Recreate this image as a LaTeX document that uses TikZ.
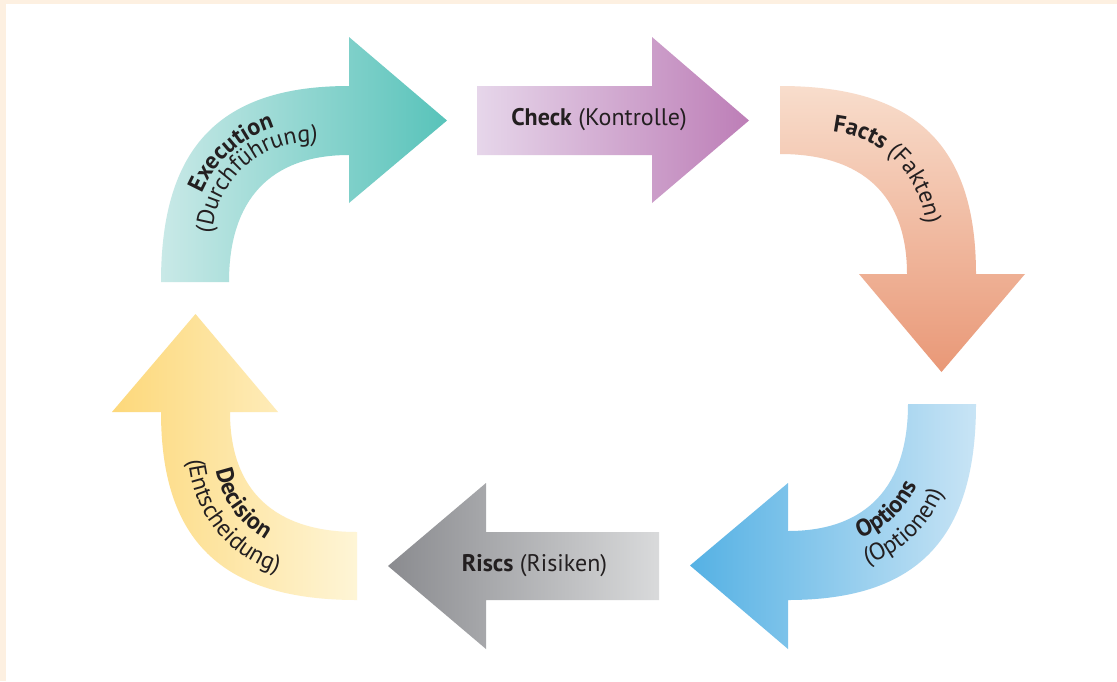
\documentclass[tikz,border=0pt]{standalone}
\usepackage{fontspec}
\setmainfont{PT Sans}
\usetikzlibrary{decorations.text}
\definecolor{cream}{HTML}{FDF0E1}
\definecolor{txt}{HTML}{231F20}
\definecolor{tealL}{HTML}{C9E9E7}
\definecolor{tealR}{HTML}{58C3BA}
\definecolor{purL}{HTML}{E6D6EA}
\definecolor{purR}{HTML}{BD7EB7}
\definecolor{salT}{HTML}{F8DDCC}
\definecolor{salB}{HTML}{E99877}
\definecolor{bluL}{HTML}{55B1E4}
\definecolor{bluR}{HTML}{C8E4F5}
\definecolor{greL}{HTML}{8A8B8F}
\definecolor{greR}{HTML}{D9DADB}
\definecolor{yelL}{HTML}{FDD87A}
\definecolor{yelR}{HTML}{FEF5D6}
\tikzset{
  lbl/.style={text=txt, font=\fontsize{24}{28}\selectfont, inner sep=0pt},
  curvetext/.style={decorate, decoration={text along path, text align=center, text={#1}}}
}
\begin{document}
\begin{tikzpicture}[x=1pt,y=-1pt]
\fontsize{24}{28}\selectfont
\useasboundingbox (0,0) rectangle (1117,681);
\fill[cream] (0,0) rectangle (1117,681);
\fill[white] (6,4) rectangle (1117,681);
% Execution (teal)
\shade[left color=tealL, right color=tealR] (161,282) .. controls (161,145) and (222,86) .. (349,86) -- (349,37) -- (447,120.5) -- (349,203) -- (349,155) .. controls (270,155) and (229,200) .. (229,282) -- cycle;
% Check (purple)
\shade[left color=purL, right color=purR] (477,86) -- (652,86) -- (652,37) -- (749,120.5) -- (652,203) -- (652,155) -- (477,155) -- cycle;
% Facts (salmon)
\shade[top color=salT, bottom color=salB] (780,86) .. controls (917,86) and (976,147) .. (976,274) -- (1025,274) -- (941.5,372) -- (859,274) -- (907,274) .. controls (907,195) and (862,154) .. (780,154) -- cycle;
% Options (blue)
\shade[left color=bluL, right color=bluR] (976,404) .. controls (976,541) and (915,600) .. (788,600) -- (788,649) -- (690,565.5) -- (788,483) -- (788,531) .. controls (867,531) and (908,486) .. (908,404) -- cycle;
% Riscs (grey)
\shade[left color=greL, right color=greR] (659,532) -- (486,532) -- (486,483) -- (388,566) -- (486,649) -- (486,600) -- (659,600) -- cycle;
% Decision (yellow)
\shade[left color=yelL, right color=yelR] (357,600) .. controls (220,600) and (161,539) .. (161,412) -- (112,412) -- (195.5,314) -- (278,412) -- (230,412) .. controls (230,491) and (275,532) .. (357,532) -- cycle;
% straight labels
\node[lbl] (check) at (599,120) {\textbf{Check} (Kontrolle)};
\node[lbl] (riscs) at (534.5,566) {\textbf{Riscs} (Risiken)};
% curved labels
\coordinate (ce) at (310,240);
\coordinate (cf) at (822,235);
\coordinate (co) at (827,446);
\coordinate (cd) at (315,451);
\path[curvetext={|\bfseries\color{txt}|Execution}] (ce) ++(153:118) arc (153:303:118);
\path[curvetext={|\mdseries\color{txt}|(Durchführung)}] (ce) ++(154:98) arc (154:304:98);
\path[curvetext={|\bfseries\color{txt}|Facts|\mdseries\color{txt}| (Fakten)}] (cf) ++(-120:104) arc (-120:30:104);
\path[curvetext={|\bfseries\color{txt}|Options}] (co) ++(122:98) arc (122:-28:98);
\path[curvetext={|\mdseries\color{txt}|(Optionen)}] (co) ++(121.5:125) arc (121.5:-28.5:125);
\path[curvetext={|\bfseries\color{txt}|Decision}] (cd) ++(219:101) arc (219:69:101);
\path[curvetext={|\mdseries\color{txt}|(Entscheidung)}] (cd) ++(216.5:127) arc (216.5:66.5:127);
\end{tikzpicture}
\end{document}
